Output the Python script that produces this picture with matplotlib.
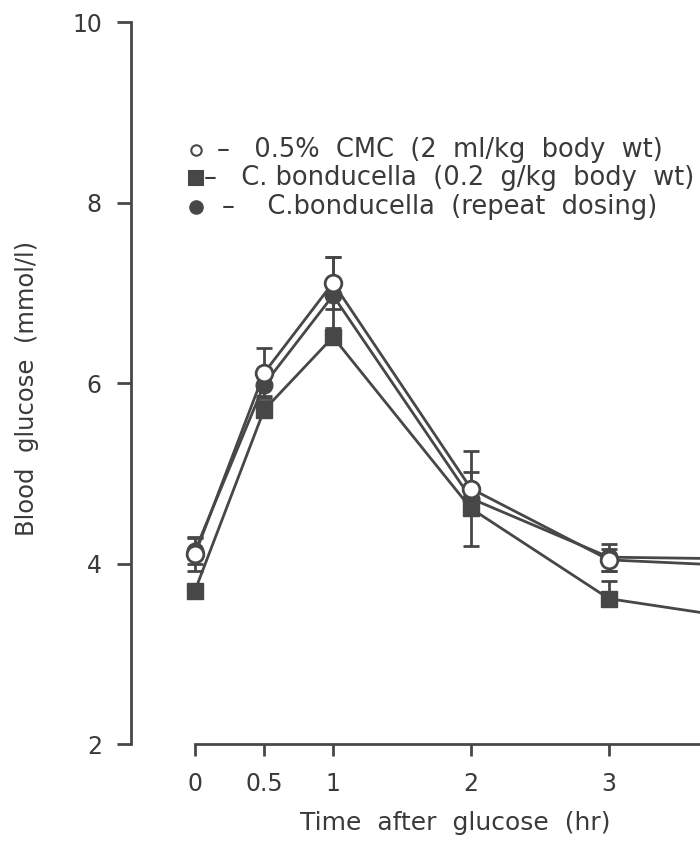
import matplotlib
matplotlib.use("Agg")
import matplotlib.pyplot as plt
from matplotlib.lines import Line2D

# data (blood glucose, mmol/l)
times = [0, 0.5, 1, 2, 3, 4]
cmc = [4.10, 6.11, 7.11, 4.83, 4.04, 3.97]
cmc_err = [0.18, 0.28, 0.29, 0.18, 0.12, 0.12]
bond = [3.70, 5.70, 6.51, 4.61, 3.61, 3.38]
bond_err = [0.05, 0.10, 0.10, 0.10, 0.20, 0.15]
repeat = [4.14, 5.98, 6.97, 4.72, 4.07, 4.05]
repeat_err = [0.15, 0.12, 0.43, 0.53, 0.15, 0.12]

xticks = [0, 0.5, 1, 2, 3]
xticklabels = ["0", "0.5", "1", "2", "3"]
yticks = [2, 4, 6, 8, 10]

ink = "#474747"
txt = "#3a3a3a"
plt.rcParams["font.family"] = ["DejaVu Sans"]

W, H = 700, 841
fig = plt.figure(figsize=(W / 100, H / 100), dpi=100)


def fx(px):
    return px / W


def fy(py):
    return 1 - py / H


# axes: y=2 at 744px, y=10 at 22px ; x=0 at 195px, 138 px per hour
x0_px, per_hr = 195, 138
left_px = 131
xmin = (left_px - x0_px) / per_hr
xmax = 4.6
ax = fig.add_axes([fx(left_px), fy(744), (x0_px + xmax * per_hr - left_px) / W, (744 - 22) / H])
ax.set_xlim(xmin, xmax)
ax.set_ylim(2, 10)

lw = 2.0
common = dict(color=ink, lw=lw, capsize=6, elinewidth=lw, capthick=lw, ecolor=ink, clip_on=False)
ax.errorbar(times, bond, yerr=[[0] * len(bond_err), bond_err], marker="s", ms=11.5,
            mfc=ink, mec=ink, zorder=2, **common)
ax.errorbar(times, repeat, yerr=repeat_err, marker="o", ms=12,
            mfc=ink, mec=ink, zorder=3, **common)
ax.errorbar(times, cmc, yerr=cmc_err, marker="o", ms=12, mfc="white", mec=ink,
            mew=lw, zorder=4, **common)

for s in ["top", "right"]:
    ax.spines[s].set_visible(False)
ax.spines["left"].set_linewidth(lw)
ax.spines["bottom"].set_linewidth(lw)
ax.spines["left"].set_color(ink)
ax.spines["bottom"].set_color(ink)
ax.spines["bottom"].set_bounds(0, xmax)

ax.set_xticks(xticks)
ax.set_xticklabels(xticklabels)
ax.set_yticks(yticks)
ax.tick_params(axis="both", direction="out", width=lw, color=ink, labelcolor=txt)
ax.tick_params(axis="x", labelsize=17, length=8.5, pad=12)
ax.tick_params(axis="y", labelsize=17, length=10, pad=11)

fig.text(fx(27), fy(388), "Blood  glucose  (mmol/l)", rotation=90, ha="center", va="center",
         fontsize=17.5, color=txt)
fig.text(fx(455), fy(823), "Time  after  glucose  (hr)", ha="center", va="center",
         fontsize=18, color=txt)

# legend written as text rows, as in the original figure
rows = [
    (150, "o", "white", 7.5, 217, "–   0.5%  CMC  (2  ml/kg  body  wt)"),
    (178, "s", ink, 9.5, 204, "–   C. bonducella  (0.2  g/kg  body  wt)"),
    (207, "o", ink, 9, 222, "–    C.bonducella  (repeat  dosing)"),
]
for py, mk, face, ms, tx, label in rows:
    fig.add_artist(Line2D([fx(196)], [fy(py)], transform=fig.transFigure, marker=mk,
                          ms=ms, mfc=face, mec=ink, mew=1.5, ls="none"))
    fig.text(fx(tx), fy(py), label, ha="left", va="center", fontsize=18.5, color=txt)

fig.savefig("out.png", dpi=100, facecolor="white")
